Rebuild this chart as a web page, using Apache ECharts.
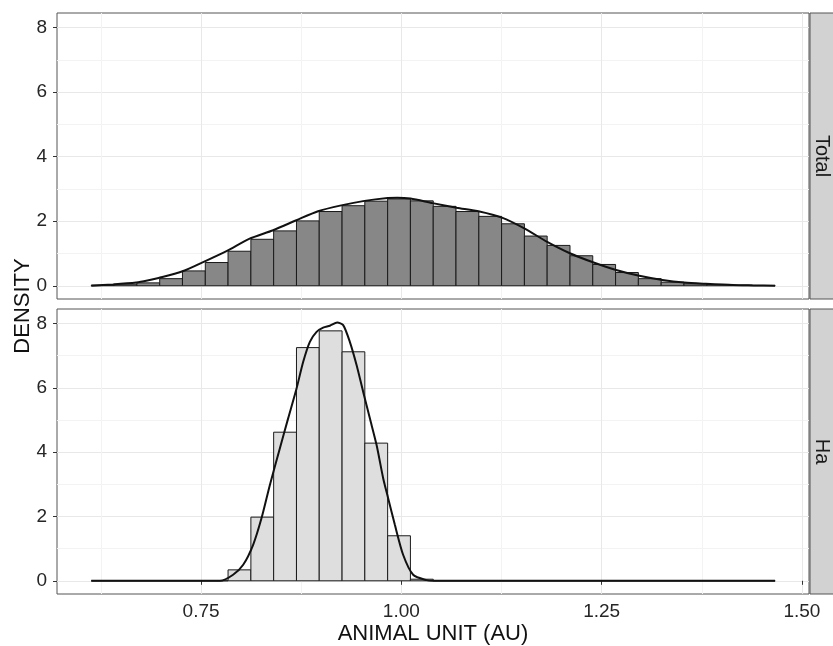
<!DOCTYPE html>
<html>
<head>
<meta charset="utf-8">
<script src="https://cdn.jsdelivr.net/npm/echarts@6/dist/echarts.min.js"></script>
<style>html,body{margin:0;padding:0;background:#fff;}#c{width:833px;height:646px;}</style>
</head>
<body>
<div id="c"></div>
<script>
// ---- data ----
const binEdges = [0.6130,0.6415,0.6699,0.6984,0.7268,0.7553,0.7837,0.8122,0.8406,0.8691,0.8975,0.9260,0.9544,0.9829,1.0113,1.0398,1.0682,1.0967,1.1251,1.1536,1.1820,1.2105,1.2389,1.2674,1.2958,1.3243,1.3527,1.3812,1.4096,1.4381,1.4665];
const totalDensity = [0.02,0.05,0.09,0.22,0.46,0.72,1.07,1.44,1.70,2.01,2.30,2.48,2.62,2.69,2.63,2.46,2.30,2.15,1.92,1.54,1.25,0.93,0.66,0.41,0.22,0.11,0.06,0.04,0.02,0.01];
const haDensity = [0,0,0,0,0,0,0.34,1.98,4.62,7.25,7.77,7.12,4.28,1.40,0.05,0,0,0,0,0,0,0,0,0,0,0,0,0,0,0];
const totalCurveX = [0.613,0.640,0.669,0.683,0.697,0.726,0.754,0.783,0.810,0.840,0.869,0.896,0.925,0.954,0.983,0.995,1.0115,1.039,1.069,1.0975,1.1255,1.154,1.182,1.211,1.240,1.268,1.297,1.326,1.353,1.380,1.414,1.440,1.4665];
const totalCurveY = [0.0,0.04,0.10,0.16,0.24,0.44,0.75,1.09,1.45,1.72,2.03,2.31,2.49,2.63,2.72,2.73,2.70,2.56,2.42,2.30,2.11,1.77,1.36,1.00,0.72,0.49,0.31,0.18,0.10,0.06,0.02,0.01,0.0];
const haCurveX = [0.613,0.7735,0.790,0.8026,0.815,0.8255,0.8359,0.8484,0.8587,0.8692,0.8775,0.8858,0.8942,0.9024,0.9108,0.9199,0.9274,0.9357,0.9441,0.9523,0.9607,0.9691,0.9773,0.9835,0.9919,1.0022,1.0147,1.0314,1.0397,1.4665];
const haCurveY = [0,0,0.19,0.50,1.12,1.95,2.98,4.12,5.05,5.98,6.81,7.43,7.74,7.87,7.93,8.03,7.95,7.43,6.71,5.88,5.05,4.22,3.19,2.57,1.74,0.81,0.19,0.02,0,0];
const panelLabels = ['Total','Ha'];
const xMajorTicks = [0.75,1.00,1.25,1.50];
const xMinorTicks = [0.625,0.875,1.125,1.375];
const yMajorTicks = [0,2,4,6,8];
const yMinorTicks = [1,3,5,7];
const xTitle = 'ANIMAL UNIT (AU)';
const yTitle = 'DENSITY';

// ---- layout ----
const FONT = '"Liberation Sans", Arial, sans-serif';
const TICK_COLOR = '#262626';
const X_MIN = 0.5702, X_MAX = 1.5088, Y_MIN = -0.41, Y_MAX = 8.45;
const grids = [
  {left:57, top:13, width:752, height:286, show:true, borderColor:'#555', borderWidth:1, backgroundColor:'#fff'},
  {left:57, top:309, width:752, height:285, show:true, borderColor:'#555', borderWidth:1, backgroundColor:'#fff'}
];

function histData(vals){
  return vals.map((v,i)=>[binEdges[i], binEdges[i+1], v]);
}
function curveData(xs, ys){ return xs.map((x,i)=>[x, ys[i]]); }

function xAxes(gi, showLabels){
  return [{
    type:'value', gridIndex:gi, min:X_MIN, max:X_MAX,
    axisLine:{show:false},
    axisTick:{show:showLabels, length:4, lineStyle:{color:'#333'}, customValues:xMajorTicks},
    axisLabel:{show:showLabels, customValues:xMajorTicks, margin:8, fontSize:19, color:TICK_COLOR, fontFamily:FONT,
      formatter:v=>v.toFixed(2)},
    splitLine:{show:true, lineStyle:{color:'#e8e8e8', width:1}},
    name: showLabels ? xTitle : '', nameLocation:'middle', nameGap:29,
    nameTextStyle:{fontSize:22, color:'#111', fontFamily:FONT}
  },{
    type:'value', gridIndex:gi, min:X_MIN, max:X_MAX, position:'top',
    axisLine:{show:false}, axisTick:{show:false, customValues:xMinorTicks},
    axisLabel:{show:false, customValues:xMinorTicks},
    splitLine:{show:true, lineStyle:{color:'#f3f3f3', width:1}}
  }];
}
function yAxes(gi){
  return [{
    type:'value', gridIndex:gi, min:Y_MIN, max:Y_MAX,
    axisLine:{show:false},
    axisTick:{show:true, length:4, lineStyle:{color:'#333'}, customValues:yMajorTicks},
    axisLabel:{show:true, customValues:yMajorTicks, margin:10, fontSize:19, color:TICK_COLOR, fontFamily:FONT},
    splitLine:{show:true, lineStyle:{color:'#e8e8e8', width:1}}
  },{
    type:'value', gridIndex:gi, min:Y_MIN, max:Y_MAX, position:'right',
    axisLine:{show:false}, axisTick:{show:false, customValues:yMinorTicks},
    axisLabel:{show:false, customValues:yMinorTicks},
    splitLine:{show:true, lineStyle:{color:'#f3f3f3', width:1}}
  }];
}

function barSeries(xi, yi, vals, fill){
  return {
    type:'custom', xAxisIndex:xi, yAxisIndex:yi, z:3,
    encode:{x:[0,1], y:2},
    data: histData(vals),
    renderItem:function(params, api){
      const p0 = api.coord([api.value(0), 0]);
      const p1 = api.coord([api.value(1), api.value(2)]);
      return {type:'rect', shape:{x:p0[0], y:p1[1], width:p1[0]-p0[0], height:p0[1]-p1[1]},
        style:{fill:fill, stroke:'#1a1a1a', lineWidth:1}};
    }
  };
}
function lineSeries(xi, yi, xs, ys){
  return {type:'line', xAxisIndex:xi, yAxisIndex:yi, z:5, data:curveData(xs, ys),
    showSymbol:false, smooth:0.25, lineStyle:{color:'#111', width:2}, silent:true, animation:false};
}

const stripGraphics = [];
grids.forEach((g,i)=>{
  stripGraphics.push({type:'rect', shape:{x:g.left+g.width+1, y:g.top, width:40, height:g.height},
    style:{fill:'#d2d2d2', stroke:'#555', lineWidth:1}});
  stripGraphics.push({type:'text', x:g.left+g.width+13, y:g.top+g.height/2, rotation:-Math.PI/2,
    style:{text:panelLabels[i], font:'20px '+FONT, fill:'#1a1a1a', align:'center', verticalAlign:'middle'}});
});
stripGraphics.push({type:'text', x:23, y:306, rotation:Math.PI/2,
  style:{text:yTitle, font:'22px '+FONT, fill:'#111', align:'center', verticalAlign:'middle'}});

const chart = echarts.init(document.getElementById('c'), null, {renderer:'canvas'});
chart.setOption({
  animation:false,
  backgroundColor:'#fff',
  grid: grids,
  xAxis: [...xAxes(0,false), ...xAxes(1,true)],
  yAxis: [...yAxes(0), ...yAxes(1)],
  series: [
    barSeries(0,0,totalDensity,'#878787'),
    lineSeries(0,0,totalCurveX,totalCurveY),
    barSeries(2,2,haDensity,'#dedede'),
    lineSeries(2,2,haCurveX,haCurveY)
  ],
  graphic: stripGraphics
});
</script>
</body>
</html>
